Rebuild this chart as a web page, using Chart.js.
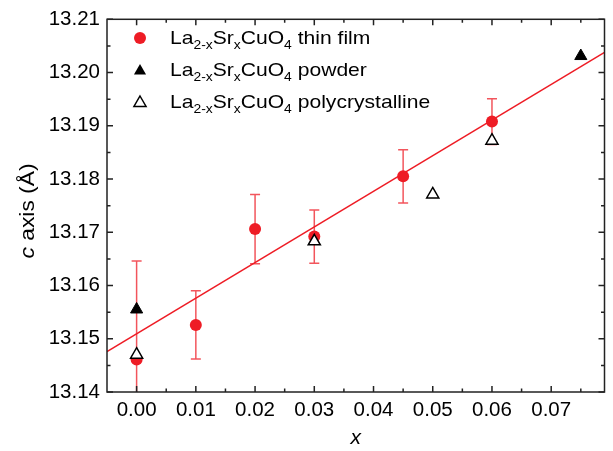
<!DOCTYPE html>
<html>
<head>
<meta charset="utf-8">
<script src="https://cdn.jsdelivr.net/npm/chart.js@4.4.1/dist/chart.umd.min.js"></script>
<style>
  html, body { margin: 0; padding: 0; background: #fff; }
</style>
</head>
<body>
<canvas id="myChart" width="613" height="451"></canvas>
<script>
// values
const filmX = [0.00, 0.01, 0.02, 0.03, 0.045, 0.06];
const filmY = [13.1461, 13.1526, 13.1706, 13.1692, 13.1805, 13.1908];
const filmErr = [0.0185, 0.0064, 0.0065, 0.0050, 0.0050, 0.0043];
const powderX = [0.00, 0.075];
const powderY = [13.1555, 13.2031];
const polyX = [0.00, 0.03, 0.05, 0.06];
const polyY = [13.1470, 13.1683, 13.1771, 13.1872];
const fitX = [-0.005, 0.079];
const fitY = [13.1476, 13.2038];
const xTicks = [0.00, 0.01, 0.02, 0.03, 0.04, 0.05, 0.06, 0.07];
const yTicks = [13.14, 13.15, 13.16, 13.17, 13.18, 13.19, 13.20, 13.21];
const legendNames = ["thin film", "powder", "polycrystalline"];

const RED = "#ee1c25";
const FONT = "'Liberation Sans', Arial, sans-serif";

function pts(xs, ys) {
  return xs.map((x, i) => ({ x: x, y: ys[i] }));
}

function drawTri(ctx, x, y, r, filled) {
  ctx.beginPath();
  ctx.moveTo(x, y - r);
  ctx.lineTo(x + r * 0.866, y + r * 0.5);
  ctx.lineTo(x - r * 0.866, y + r * 0.5);
  ctx.closePath();
  if (filled) {
    ctx.fillStyle = "#000";
    ctx.fill();
  } else {
    ctx.fillStyle = "#fff";
    ctx.fill();
    ctx.lineWidth = 1.5;
    ctx.strokeStyle = "#000";
    ctx.stroke();
  }
}

// text with subscripts: La_{2-x}Sr_{x}CuO_{4}
// the original font is a bit wider than Liberation Sans, so stretch it
function drawFormula(ctx, x, y, tail) {
  const parts = [["La", 0], ["2-x", 1], ["Sr", 0], ["x", 1], ["CuO", 0], ["4", 1], [" " + tail, 0]];
  ctx.save();
  ctx.translate(x, y);
  ctx.scale(1.11, 1);
  ctx.textBaseline = "alphabetic";
  ctx.textAlign = "left";
  ctx.fillStyle = "#000";
  let cx = 0;
  parts.forEach((p) => {
    if (p[1]) {
      ctx.font = "12.5px " + FONT;
      ctx.fillText(p[0], cx, 5);
    } else {
      ctx.font = "19px " + FONT;
      ctx.fillText(p[0], cx, 0);
    }
    cx += ctx.measureText(p[0]).width;
  });
  ctx.restore();
}

const errorBars = {
  id: "errorBars",
  beforeDatasetsDraw(chart) {
    const ctx = chart.ctx;
    const xs = chart.scales.x, ys = chart.scales.y;
    const a = chart.chartArea;
    ctx.save();
    ctx.beginPath();
    ctx.rect(a.left, a.top, a.right - a.left, a.bottom - a.top);
    ctx.clip();
    ctx.strokeStyle = "rgba(238, 28, 37, 0.75)";
    ctx.lineWidth = 1.5;
    filmX.forEach((x, i) => {
      const px = xs.getPixelForValue(x);
      const top = ys.getPixelForValue(filmY[i] + filmErr[i]);
      const bot = ys.getPixelForValue(filmY[i] - filmErr[i]);
      ctx.beginPath();
      ctx.moveTo(px, top); ctx.lineTo(px, bot);
      ctx.moveTo(px - 5, top); ctx.lineTo(px + 5, top);
      ctx.moveTo(px - 5, bot); ctx.lineTo(px + 5, bot);
      ctx.stroke();
    });
    ctx.restore();
  }
};

const frame = {
  id: "frame",
  afterDraw(chart) {
    const ctx = chart.ctx;
    const xs = chart.scales.x, ys = chart.scales.y;
    const a = chart.chartArea;
    ctx.save();
    ctx.strokeStyle = "#222";
    ctx.lineWidth = 1.5;
    ctx.strokeRect(a.left, a.top, a.right - a.left, a.bottom - a.top);

    // inward ticks on all four sides
    ctx.beginPath();
    for (let i = 0; i < xTicks.length; i++) {
      [xTicks[i], xTicks[i] + 0.005, xTicks[i] - 0.005].forEach((v, k) => {
        if (k === 2 && i > 0) return;
        const px = xs.getPixelForValue(v);
        if (px < a.left + 1 || px > a.right - 1) return;
        const len = k === 0 ? 6 : 3.5;
        ctx.moveTo(px, a.bottom); ctx.lineTo(px, a.bottom - len);
        ctx.moveTo(px, a.top); ctx.lineTo(px, a.top + len);
      });
    }
    for (let i = 0; i < yTicks.length; i++) {
      [yTicks[i], yTicks[i] + 0.005].forEach((v, k) => {
        const py = ys.getPixelForValue(v);
        if (py < a.top - 0.5) return;
        const len = k === 0 ? 6 : 3.5;
        ctx.moveTo(a.left, py); ctx.lineTo(a.left + len, py);
        ctx.moveTo(a.right, py); ctx.lineTo(a.right - len, py);
      });
    }
    ctx.stroke();

    // axis titles
    ctx.fillStyle = "#000";
    ctx.textBaseline = "middle";
    ctx.textAlign = "center";
    ctx.font = "italic 21px " + FONT;
    ctx.fillText("x", (a.left + a.right) / 2, 438);

    ctx.save();
    ctx.translate(28, 211);
    ctx.rotate(-Math.PI / 2);
    ctx.scale(1.14, 1);
    ctx.textAlign = "left";
    ctx.font = "italic 20px " + FONT;
    const w1 = ctx.measureText("c").width;
    ctx.font = "20px " + FONT;
    const w2 = ctx.measureText(" axis (Å)").width;
    let sx = -(w1 + w2) / 2;
    ctx.font = "italic 20px " + FONT;
    ctx.fillText("c", sx, 0);
    ctx.font = "20px " + FONT;
    ctx.fillText(" axis (Å)", sx + w1, 0);
    ctx.restore();

    // legend
    const rows = [38, 70, 102];
    ctx.fillStyle = RED;
    ctx.beginPath();
    ctx.arc(140, rows[0], 6, 0, Math.PI * 2);
    ctx.fill();
    drawTri(ctx, 140, rows[1] + 1, 7, true);
    drawTri(ctx, 140, rows[2] + 1, 7, false);
    legendNames.forEach((n, i) => drawFormula(ctx, 170, rows[i] + 6, n));
    ctx.restore();
  }
};

const ctx = document.getElementById("myChart").getContext("2d");
const myChart = new Chart(ctx, {
  type: "scatter",
  data: {
    datasets: [
      {
        label: "powder",
        data: pts(powderX, powderY),
        pointStyle: "triangle",
        pointRadius: 7,
        backgroundColor: "#000",
        borderColor: "#000",
        borderWidth: 1,
        order: 0,
      },
      {
        label: "polycrystalline",
        data: pts(polyX, polyY),
        pointStyle: "triangle",
        pointRadius: 7,
        backgroundColor: "#fff",
        borderColor: "#000",
        borderWidth: 1.5,
        order: 1,
      },
      {
        label: "thin film",
        data: pts(filmX, filmY),
        pointStyle: "circle",
        pointRadius: 6,
        backgroundColor: RED,
        borderColor: RED,
        borderWidth: 0,
        order: 2,
      },
      {
        label: "fit",
        type: "line",
        data: pts(fitX, fitY),
        borderColor: RED,
        borderWidth: 1.5,
        pointRadius: 0,
        fill: false,
        order: 3,
      },
    ],
  },
  options: {
    responsive: false,
    animation: false,
    devicePixelRatio: 1,
    layout: { padding: { top: 14, right: 8, left: 0, bottom: 0 } },
    plugins: {
      legend: { display: false },
      tooltip: { enabled: false },
    },
    scales: {
      x: {
        type: "linear",
        min: -0.005,
        max: 0.079,
        afterBuildTicks: (s) => { s.ticks = xTicks.map((v) => ({ value: v })); },
        afterFit: (s) => { s.height = 59; },
        grid: { display: false, drawTicks: false },
        border: { display: false },
        ticks: {
          color: "#000",
          padding: 6,
          font: { family: FONT, size: 20.5 },
          callback: (v) => v.toFixed(2),
        },
      },
      y: {
        type: "linear",
        min: 13.14,
        max: 13.21,
        afterBuildTicks: (s) => { s.ticks = yTicks.map((v) => ({ value: v })); },
        afterFit: (s) => { s.width = 107; },
        grid: { display: false, drawTicks: false },
        border: { display: false },
        ticks: {
          color: "#000",
          padding: 7,
          font: { family: FONT, size: 20.5 },
          callback: (v) => v.toFixed(2),
        },
      },
    },
  },
  plugins: [errorBars, frame],
});
</script>
</body>
</html>
